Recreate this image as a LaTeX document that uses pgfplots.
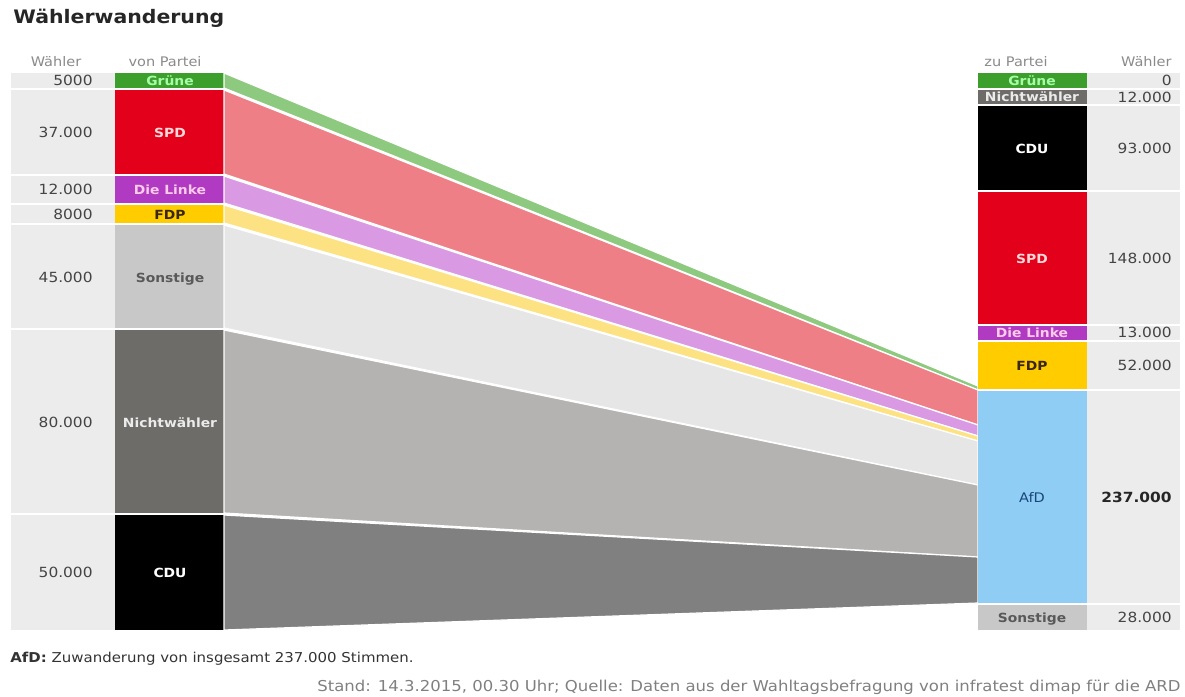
\documentclass[border=0pt]{standalone}
\usepackage{pgfplots}
\pgfplotsset{compat=1.18}
\usepackage{fontspec}
\setmainfont{DejaVu Sans}[FakeStretch=1.1]
\definecolor{colbg}{HTML}{ECECEC}
\definecolor{cGruene}{HTML}{3C9F2C}
\definecolor{cSPD}{HTML}{E2001A}
\definecolor{cLinke}{HTML}{B03AC2}
\definecolor{cFDP}{HTML}{FFCC00}
\definecolor{cSonst}{HTML}{C8C8C8}
\definecolor{cNW}{HTML}{6E6C69}
\definecolor{cCDU}{HTML}{000000}
\definecolor{cAfD}{HTML}{8FCDF5}
\definecolor{fGruene}{HTML}{8DC97E}
\definecolor{fSPD}{HTML}{EF7F87}
\definecolor{fLinke}{HTML}{D99AE3}
\definecolor{fFDP}{HTML}{FDE283}
\definecolor{fSonst}{HTML}{E6E6E6}
\definecolor{fNW}{HTML}{B5B3B1}
\definecolor{fCDU}{HTML}{808080}
\definecolor{numtxt}{HTML}{444444}
\definecolor{headtxt}{HTML}{8A8A8A}
\newcommand{\rowbox}[5]{\addplot[fill=#5,draw=none] coordinates {(#1,#2) (#3,#2) (#3,#4) (#1,#4)} -- cycle;}
\newcommand{\flow}[5]{\addplot[fill=#5,draw=white,line width=0.6pt] coordinates {(224,#1) (978,#3) (978,#4) (224,#2)} -- cycle;}
\newcommand{\numfont}{\fontsize{7}{8}\selectfont}
\newcommand{\labfont}{\fontsize{6.3}{7}\selectfont\bfseries}
\begin{document}
\begin{tikzpicture}
\useasboundingbox (0,0) rectangle (592.5pt,348.5pt);
\begin{axis}[at={(0,0)}, anchor=south west, scale only axis,
  width=592.5pt, height=348.5pt,
  xmin=0, xmax=1185, ymin=0, ymax=697, y dir=reverse,
  hide axis, clip=false]
% ---- left number column
\rowbox{11}{73}{115}{88}{colbg}
\rowbox{11}{90}{115}{174}{colbg}
\rowbox{11}{176}{115}{203}{colbg}
\rowbox{11}{205}{115}{223}{colbg}
\rowbox{11}{225}{115}{328}{colbg}
\rowbox{11}{330}{115}{513}{colbg}
\rowbox{11}{515}{115}{630}{colbg}
% ---- left blocks
\rowbox{115}{73}{224}{88}{cGruene}
\rowbox{115}{90}{224}{174}{cSPD}
\rowbox{115}{176}{224}{203}{cLinke}
\rowbox{115}{205}{224}{223}{cFDP}
\rowbox{115}{225}{224}{328}{cSonst}
\rowbox{115}{330}{224}{513}{cNW}
\rowbox{115}{515}{224}{630}{cCDU}
% ---- flows (left top, left bottom, right top, right bottom)
\flow{73}{88}{386}{390}{fGruene}
\flow{90}{174}{390}{425}{fSPD}
\flow{176}{203}{425}{436}{fLinke}
\flow{205}{223}{436}{441}{fFDP}
\flow{225}{328}{441}{485}{fSonst}
\flow{330}{513}{485}{557}{fNW}
\flow{515}{630}{557}{603}{fCDU}
% ---- right blocks
\rowbox{978}{73}{1087}{88}{cGruene}
\rowbox{978}{90}{1087}{104}{cNW}
\rowbox{978}{106}{1087}{190}{cCDU}
\rowbox{978}{192}{1087}{324}{cSPD}
\rowbox{978}{326}{1087}{340}{cLinke}
\rowbox{978}{342}{1087}{389}{cFDP}
\rowbox{978}{391}{1087}{603}{cAfD}
\rowbox{978}{605}{1087}{630}{cSonst}
% ---- right number column
\rowbox{1087}{73}{1180}{88}{colbg}
\rowbox{1087}{90}{1180}{104}{colbg}
\rowbox{1087}{106}{1180}{190}{colbg}
\rowbox{1087}{192}{1180}{324}{colbg}
\rowbox{1087}{326}{1180}{340}{colbg}
\rowbox{1087}{342}{1180}{389}{colbg}
\rowbox{1087}{391}{1180}{603}{colbg}
\rowbox{1087}{605}{1180}{630}{colbg}
% ---- title and headers
\node[anchor=base west, inner sep=0pt, text=black!85] at (axis cs:13,23) {\fontsize{9.3}{11}\selectfont\bfseries Wählerwanderung};
\node[anchor=base, inner sep=0pt, text=headtxt] at (axis cs:56,66) {\fontsize{6.6}{8}\selectfont Wähler};
\node[anchor=base, inner sep=0pt, text=headtxt] at (axis cs:165,66) {\fontsize{6.6}{8}\selectfont von Partei};
\node[anchor=base, inner sep=0pt, text=headtxt] at (axis cs:1016,66) {\fontsize{6.6}{8}\selectfont zu Partei};
\node[anchor=base east, inner sep=0pt, text=headtxt] at (axis cs:1172,66) {\fontsize{6.6}{8}\selectfont Wähler};
% ---- left numbers
\node[anchor=base east, inner sep=0pt, text=numtxt] at (axis cs:93,85) {\numfont 5000};
\node[anchor=base east, inner sep=0pt, text=numtxt] at (axis cs:93,137) {\numfont 37.000};
\node[anchor=base east, inner sep=0pt, text=numtxt] at (axis cs:93,194) {\numfont 12.000};
\node[anchor=base east, inner sep=0pt, text=numtxt] at (axis cs:93,219) {\numfont 8000};
\node[anchor=base east, inner sep=0pt, text=numtxt] at (axis cs:93,282) {\numfont 45.000};
\node[anchor=base east, inner sep=0pt, text=numtxt] at (axis cs:93,427) {\numfont 80.000};
\node[anchor=base east, inner sep=0pt, text=numtxt] at (axis cs:93,577) {\numfont 50.000};
% ---- left labels
\node[anchor=base, inner sep=0pt, text=green!35!white] at (axis cs:170,85) {\labfont Grüne};
\node[anchor=base, inner sep=0pt, text=red!15!white] at (axis cs:170,137) {\labfont SPD};
\node[anchor=base, inner sep=0pt, text=magenta!20!white] at (axis cs:170,194) {\labfont Die Linke};
\node[anchor=base, inner sep=0pt, text=black!70!brown] at (axis cs:170,219) {\labfont FDP};
\node[anchor=base, inner sep=0pt, text=black!65] at (axis cs:170,282) {\labfont Sonstige};
\node[anchor=base, inner sep=0pt, text=white!92!black] at (axis cs:170,427) {\labfont Nichtwähler};
\node[anchor=base, inner sep=0pt, text=white] at (axis cs:170,577) {\labfont CDU};
% ---- right labels
\node[anchor=base, inner sep=0pt, text=green!35!white] at (axis cs:1032,85) {\labfont Grüne};
\node[anchor=base, inner sep=0pt, text=white!92!black] at (axis cs:1032,101) {\labfont Nichtwähler};
\node[anchor=base, inner sep=0pt, text=white] at (axis cs:1032,153) {\labfont CDU};
\node[anchor=base, inner sep=0pt, text=red!15!white] at (axis cs:1032,263) {\labfont SPD};
\node[anchor=base, inner sep=0pt, text=magenta!20!white] at (axis cs:1032,337) {\labfont Die Linke};
\node[anchor=base, inner sep=0pt, text=black!70!brown] at (axis cs:1032,370) {\labfont FDP};
\node[anchor=base, inner sep=0pt, text={rgb,255:red,25;green,70;blue,120}] at (axis cs:1032,502) {\fontsize{6.6}{8}\selectfont AfD};
\node[anchor=base, inner sep=0pt, text=black!65] at (axis cs:1032,622) {\labfont Sonstige};
% ---- right numbers
\node[anchor=base east, inner sep=0pt, text=numtxt] at (axis cs:1172,85) {\numfont 0};
\node[anchor=base east, inner sep=0pt, text=numtxt] at (axis cs:1172,102) {\numfont 12.000};
\node[anchor=base east, inner sep=0pt, text=numtxt] at (axis cs:1172,153) {\numfont 93.000};
\node[anchor=base east, inner sep=0pt, text=numtxt] at (axis cs:1172,263) {\numfont 148.000};
\node[anchor=base east, inner sep=0pt, text=numtxt] at (axis cs:1172,337) {\numfont 13.000};
\node[anchor=base east, inner sep=0pt, text=numtxt] at (axis cs:1172,370) {\numfont 52.000};
\node[anchor=base east, inner sep=0pt, text=black!85] at (axis cs:1172,502) {\numfont\bfseries 237.000};
\node[anchor=base east, inner sep=0pt, text=numtxt] at (axis cs:1172,622) {\numfont 28.000};
% ---- footer
\node[anchor=base west, inner sep=0pt, text=black!80] at (axis cs:10,662) {\fontsize{6.8}{8}\selectfont\textbf{AfD:} Zuwanderung von insgesamt 237.000 Stimmen.};
\node[anchor=base west, inner sep=0pt, text=black!50] at (axis cs:317,691) {\fontsize{7.5}{8}\selectfont Stand: 14.3.2015, 00.30 Uhr; Quelle: Daten aus der Wahltagsbefragung von infratest dimap für die ARD};
\end{axis}
\end{tikzpicture}
\end{document}
